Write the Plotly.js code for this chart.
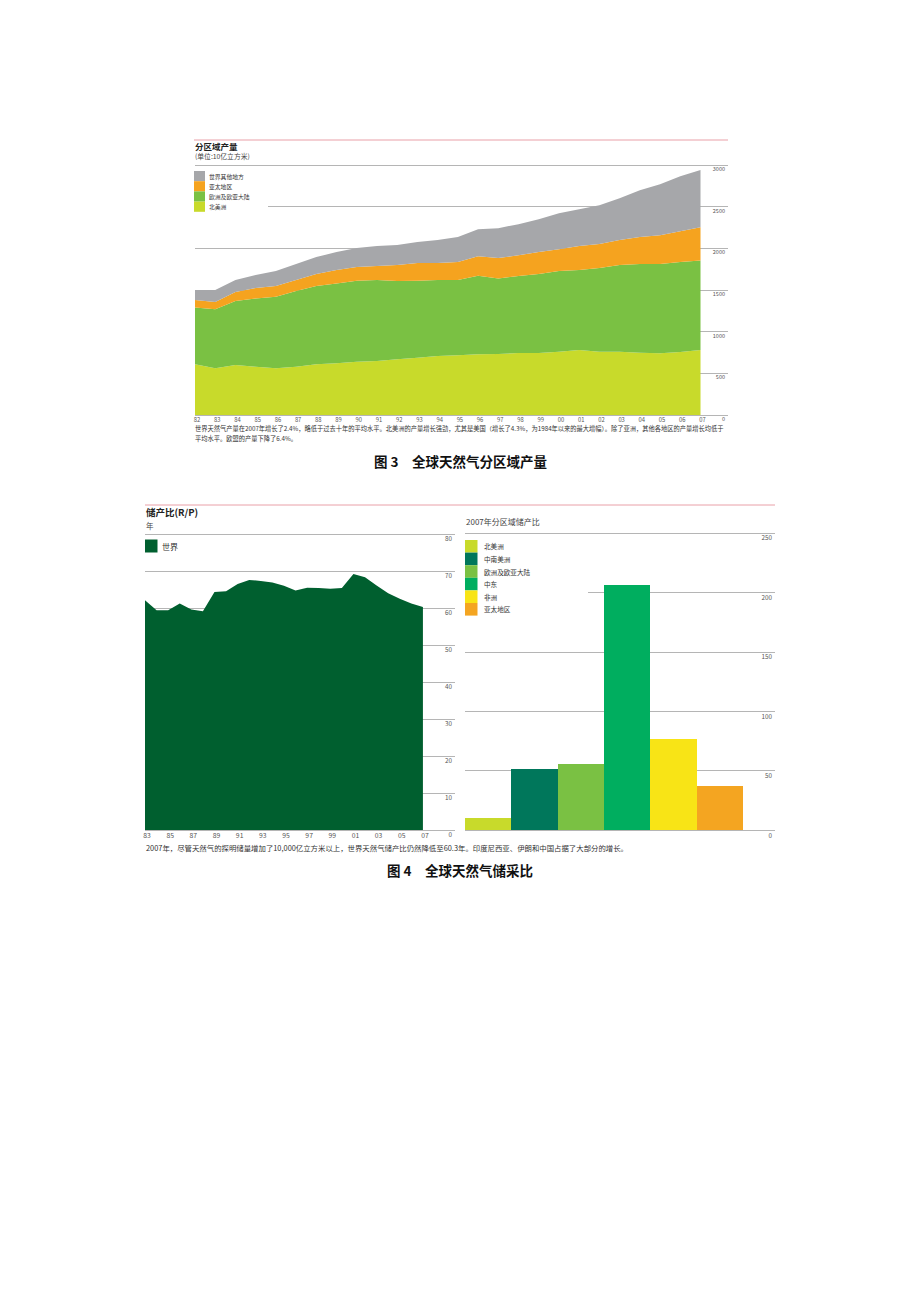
<!DOCTYPE html>
<html>
<head>
<meta charset="utf-8">
<script src="https://cdn.plot.ly/plotly-3.0.1.min.js"></script>
<style>
html,body{margin:0;padding:0;background:#fff;}
#chart{width:920px;height:1302px;}
</style>
</head>
<body>
<div id="chart"></div>
<script>
// ---------- Chart 1: production by region (billion cubic metres) ----------
const years1 = [1982,1983,1984,1985,1986,1987,1988,1989,1990,1991,1992,1993,1994,1995,1996,1997,1998,1999,2000,2001,2002,2003,2004,2005,2006,2007];
const yearLabels1 = ['82','83','84','85','86','87','88','89','90','91','92','93','94','95','96','97','98','99','00','01','02','03','04','05','06','07'];
const northAmerica = [608,560,600,580,560,580,608,620,640,648,668,688,708,716,728,732,744,744,760,780,760,760,748,740,756,780];
const europeEurasia = [683,708,767,819,859,907,939,959,971,971,939,923,911,903,943,907,923,947,967,959,1003,1039,1063,1071,1079,1075];
const asiaPacific = [88,87,108,124,128,132,144,160,164,168,192,212,204,216,235,244,251,264,263,288,288,300,324,347,371,399];
const restOfWorld = [120,145,144,156,180,192,204,216,228,240,240,252,276,300,324,359,372,395,432,443,467,503,563,612,660,686];
const yTicks1 = [0,500,1000,1500,2000,2500,3000];
const regionNames1 = ['北美洲','欧洲及欧亚大陆','亚太地区','世界其他地方'];
const regionColors1 = ['#c8da2b','#7ac143','#f5a31f','#a6a7aa'];

// ---------- Chart 2: world R/P ratio (years) ----------
const years2 = [1983,1984,1985,1986,1987,1988,1989,1990,1991,1992,1993,1994,1995,1996,1997,1998,1999,2000,2001,2002,2003,2004,2005,2006,2007];
const worldRP = [62.1,59.4,59.4,61.2,59.6,59.1,64.3,64.5,66.5,67.6,67.3,66.9,66.0,64.7,65.5,65.4,65.2,65.4,69.2,68.3,66.1,64.0,62.5,61.2,60.3];
const tickYears2 = [1983,1985,1987,1989,1991,1993,1995,1997,1999,2001,2003,2005,2007];
const tickLabels2 = ['83','85','87','89','91','93','95','97','99','01','03','05','07'];
const yTicks2 = [0,10,20,30,40,50,60,70,80];

// ---------- Chart 3: 2007 R/P by region ----------
const regions3 = ['北美洲','中南美洲','欧洲及欧亚大陆','中东','非洲','亚太地区'];
const rp2007 = [10.4,51.6,55.8,206,76.8,37.6];
const colors3 = ['#c8da2b','#00775b','#7ac143','#00ae5f','#f8e416','#f4a521'];
const yTicks3 = [0,50,100,150,200,250];

// ---------- page geometry helpers ----------
const W = 920, H = 1302;
const px = x => x / W;
const py = y => 1 - y / H;
const FONT = 'Noto Sans CJK SC, Noto Sans, sans-serif';
const GRID = '#a3a3a3';

const traces = [];
const stackVals = [northAmerica, europeEurasia, asiaPacific, restOfWorld];
stackVals.forEach((vals, i) => {
  traces.push({
    type: 'scatter', mode: 'none', x: years1, y: vals, stackgroup: 'one',
    fillcolor: regionColors1[i], name: regionNames1[i], xaxis: 'x', yaxis: 'y',
    hoverinfo: 'skip'
  });
});
traces.push({
  type: 'scatter', mode: 'none', x: years2, y: worldRP, fill: 'tozeroy',
  fillcolor: '#005f2f', name: '世界', xaxis: 'x2', yaxis: 'y2', hoverinfo: 'skip'
});
traces.push({
  type: 'bar', x: regions3, y: rp2007, marker: {color: colors3, line: {width: 0}},
  width: 1, xaxis: 'x3', yaxis: 'y3', hoverinfo: 'skip'
});

const shapes = [];
const annotations = [];

// red rules
shapes.push({type:'line', xref:'paper', yref:'paper', x0:px(194), x1:px(728), y0:py(140), y1:py(140), line:{color:'#e9a0a8', width:1}});
shapes.push({type:'line', xref:'paper', yref:'paper', x0:px(145), x1:px(775), y0:py(505), y1:py(505), line:{color:'#e9a0a8', width:1}});

function txt(x, y, text, size, opts) {
  annotations.push(Object.assign({
    xref:'paper', yref:'paper', x:px(x), y:py(y), text:text, showarrow:false,
    xanchor:'left', yanchor:'middle', font:{family:FONT, size:size, color:'#333'}
  }, opts || {}));
}

// chart 1 titles
txt(193, 146, '<b>分区域产量</b>', 8.5, {font:{family:FONT, size:8.5, color:'#222'}});
txt(193, 156, '(单位:10亿立方米)', 6.8, {font:{family:FONT, size:6.8, color:'#444'}});
// chart 1 legend (white backing hides gridline like the original)
shapes.push({type:'rect', xref:'paper', yref:'paper', layer:'above', x0:px(193), x1:px(268), y0:py(168), y1:py(214), fillcolor:'#ffffff', line:{width:0}});
const leg1Order = [3,2,1,0];
leg1Order.forEach((idx, k) => {
  const top = 171 + k * 10.2;
  shapes.push({type:'rect', xref:'paper', yref:'paper', layer:'above', x0:px(194), x1:px(205), y0:py(top), y1:py(top + 10.2), fillcolor: regionColors1[idx], line:{width:0}});
  txt(207, top + 5, regionNames1[idx], 5.8, {font:{family:FONT, size:5.8, color:'#333'}});
});
// chart 1 caption
txt(193, 428, '世界天然气产量在2007年增长了2.4%，略低于过去十年的平均水平。北美洲的产量增长强劲，尤其是美国（增长了4.3%，为1984年以来的最大增幅）。除了亚洲，其他各地区的产量增长均低于', 6.25, {font:{family:FONT, size:6.25, color:'#333'}});
txt(193, 438, '平均水平。欧盟的产量下降了6.4%。', 6.25, {font:{family:FONT, size:6.25, color:'#333'}});
txt(460, 461, '<b>图 3　全球天然气分区域产量</b>', 13.5, {xanchor:'center', font:{family:FONT, size:13.5, color:'#111'}});

// chart 2 titles
txt(144, 512, '<b>储产比(R/P)</b>', 9.5, {font:{family:FONT, size:9.5, color:'#222'}});
txt(144, 525, '年', 7.5, {font:{family:FONT, size:7.5, color:'#444'}});
shapes.push({type:'rect', xref:'paper', yref:'paper', layer:'above', x0:px(145), x1:px(157.5), y0:py(539.5), y1:py(552.5), fillcolor:'#005f2f', line:{width:0}});
txt(160, 546, '世界', 8, {font:{family:FONT, size:8, color:'#333'}});

// chart 3 titles & legend
txt(464, 521, '2007年分区域储产比', 8, {font:{family:FONT, size:8, color:'#444'}});
shapes.push({type:'rect', xref:'paper', yref:'paper', layer:'above', x0:px(464), x1:px(588), y0:py(537), y1:py(618), fillcolor:'#ffffff', line:{width:0}});
regions3.forEach((name, k) => {
  const top = 540 + k * 12.6;
  shapes.push({type:'rect', xref:'paper', yref:'paper', layer:'above', x0:px(465), x1:px(477.5), y0:py(top), y1:py(top + 12.6), fillcolor: colors3[k], line:{width:0}});
  txt(482, top + 6.3, name, 6.6, {font:{family:FONT, size:6.6, color:'#333'}});
});

// chart 2/3 caption
txt(144, 847, '2007年，尽管天然气的探明储量增加了10,000亿立方米以上，世界天然气储产比仍然降低至60.3年。印度尼西亚、伊朗和中国占据了大部分的增长。', 7.4, {font:{family:FONT, size:7.4, color:'#333'}});
txt(460, 870, '<b>图 4　全球天然气储采比</b>', 13.5, {xanchor:'center', font:{family:FONT, size:13.5, color:'#111'}});

const baseX = {showgrid:false, zeroline:false, showline:false, ticks:'', fixedrange:true};
const baseY = {side:'right', ticklabelposition:'inside', ticks:'', showline:false, zeroline:false,
  showgrid:true, gridcolor:GRID, gridwidth:0.8, fixedrange:true};

const layout = {
  width: W, height: H,
  margin: {l:0, r:0, t:0, b:0, pad:0},
  paper_bgcolor: '#ffffff', plot_bgcolor: 'rgba(0,0,0,0)',
  showlegend: false,
  font: {family: FONT, color: '#555'},
  xaxis: Object.assign({}, baseX, {
    domain:[px(195), px(728)], range:[1982, 1982 + (728 - 195) / 20.22], anchor:'y',
    tickmode:'array', tickvals: years1, ticktext: yearLabels1,
    tickfont:{size:5.8, color:'#555'}, ticklabelshift: 2, ticklabelstandoff: -12
  }),
  yaxis: Object.assign({}, baseY, {
    domain:[py(427), py(162)], range:[-144, 3036], anchor:'x',
    tickmode:'array', tickvals: yTicks1, ticktext: yTicks1.map(String),
    tickfont:{size:5.5, color:'#555'}, ticklabelshift: 4
  }),
  xaxis2: Object.assign({}, baseX, {
    domain:[px(145), px(455)], range:[1983, 1983 + (455 - 145) / 11.58], anchor:'y2',
    tickmode:'array', tickvals: tickYears2, ticktext: tickLabels2,
    tickfont:{size:6.8, color:'#555'}, ticklabelshift: 2, ticklabelstandoff: -14
  }),
  yaxis2: Object.assign({}, baseY, {
    domain:[py(844), py(531)], range:[-3.78, 80.81], anchor:'x2',
    tickmode:'array', tickvals: yTicks2, ticktext: yTicks2.map(String),
    tickfont:{size:6.3, color:'#555'}, ticklabelshift: 5
  }),
  xaxis3: Object.assign({}, baseX, {
    domain:[px(465), px(775)], range:[-0.5, -0.5 + (775 - 465) / 46.3], anchor:'y3',
    type:'category', showticklabels:false
  }),
  yaxis3: Object.assign({}, baseY, {
    domain:[py(844.5), py(530)], range:[-11.77, 252.52], anchor:'x3',
    tickmode:'array', tickvals: yTicks3, ticktext: yTicks3.map(String),
    tickfont:{size:6.3, color:'#555'}, ticklabelshift: 5
  }),
  bargap: 0,
  shapes: shapes,
  annotations: annotations
};

Plotly.newPlot('chart', traces, layout, {staticPlot:true, displayModeBar:false});
</script>
</body>
</html>
